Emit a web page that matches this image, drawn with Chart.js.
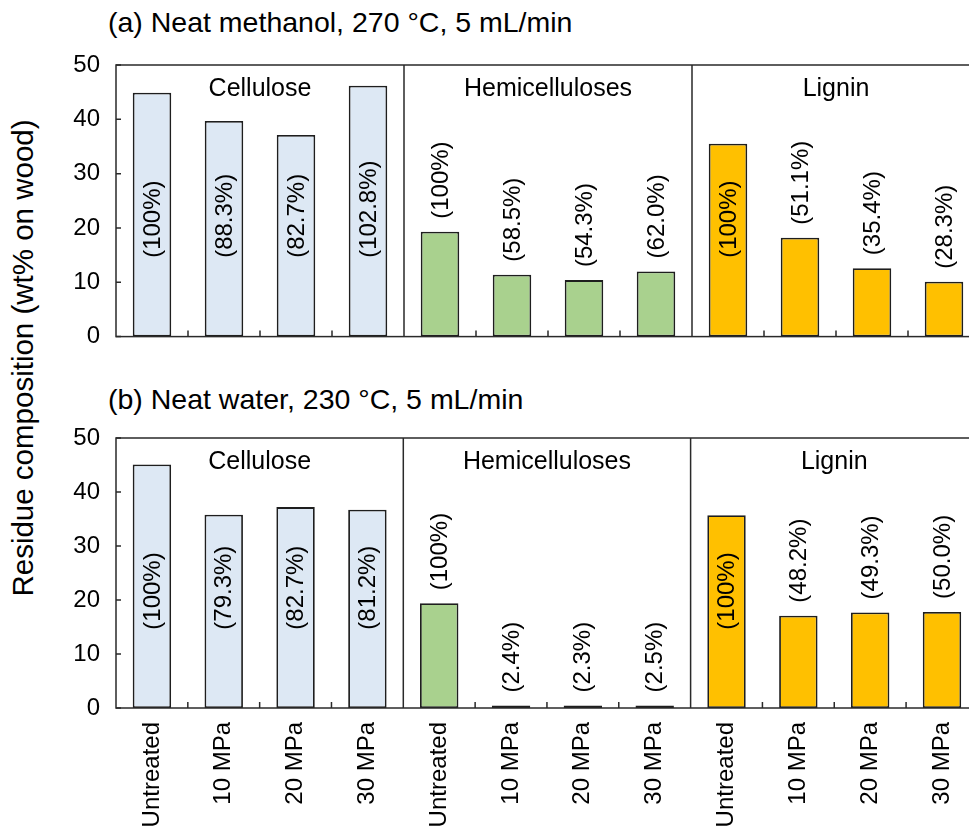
<!DOCTYPE html>
<html>
<head>
<meta charset="utf-8">
<script src="https://cdn.jsdelivr.net/npm/chart.js@4.4.1/dist/chart.umd.min.js"></script>
<style>
    html, body { margin: 0; overflow: hidden; }
    body { background: #fff; width: 969px; height: 833px; position: relative;
           font-family: "Liberation Sans", Arial, sans-serif; color: #000; }
    .panel-title { position: absolute; left: 108px; font-size: 28.5px; white-space: nowrap; line-height: 1; }
    #ytitle { position: absolute; left: 23px; top: 358px; transform: translate(-50%, -50%) rotate(-90deg);
              font-size: 29.5px; white-space: nowrap; line-height: 1; }
    canvas { position: absolute; left: 0; }
</style>
</head>
<body>
<div class="panel-title" style="top:8px">(a) Neat methanol, 270 °C, 5 mL/min</div>
<div class="panel-title" style="top:385px">(b) Neat water, 230 °C, 5 mL/min</div>
<div id="ytitle">Residue composition (wt% on wood)</div>
<canvas id="methanol-chart" width="985" height="367" style="top:0"></canvas>
<canvas id="water-chart" width="985" height="463" style="top:370px"></canvas>

<script>
(function () {
    "use strict";

    var FONT = "'Liberation Sans', Arial, sans-serif";

    // categories
    var categories = ["Untreated", "10 MPa", "20 MPa", "30 MPa",
                      "Untreated", "10 MPa", "20 MPa", "30 MPa",
                      "Untreated", "10 MPa", "20 MPa", "30 MPa"];
    var components = ["Cellulose", "Hemicelluloses", "Lignin"];
    var componentColors = ["#dde8f4", "#a9d18e", "#ffc000"];
    var yTicks = [0, 10, 20, 30, 40, 50];

    // (a) neat methanol: residue (wt% on wood) and retained (%)
    var methanolResidue = [44.9, 39.7, 37.1, 46.2, 19.3, 11.4, 10.4, 12.0, 35.5, 18.2, 12.6, 10.1];
    var methanolRetained = [100, 88.3, 82.7, 102.8, 100, 58.5, 54.3, 62.0, 100, 51.1, 35.4, 28.3];

    // (b) neat water
    var waterResidue = [45.1, 35.8, 37.2, 36.7, 19.4, 0.45, 0.45, 0.48, 35.7, 17.1, 17.7, 17.8];
    var waterRetained = [100, 79.3, 82.7, 81.2, 100, 2.4, 2.3, 2.5, 100, 48.2, 49.3, 50.0];

    var perGroup = categories.length / components.length;

    function fmtPct(v) {
        return "(" + (v === 100 ? "100" : v.toFixed(1)) + "%)";
    }

    // box, group dividers, inward ticks, group names
    var framePlugin = {
        id: "frame",
        afterDatasetsDraw: function (chart) {
            var ctx = chart.ctx, a = chart.chartArea;
            var xs = chart.scales.x, ys = chart.scales.y;
            ctx.save();
            ctx.strokeStyle = "#2a2a2a";
            ctx.lineWidth = 1.5;
            ctx.strokeRect(a.left, a.top, a.right - a.left, a.bottom - a.top);
            ctx.beginPath();
            for (var i = 1; i < categories.length; i++) {
                var bx = (xs.getPixelForValue(i - 1) + xs.getPixelForValue(i)) / 2;
                if (i % perGroup === 0) {
                    ctx.moveTo(bx, a.top);
                    ctx.lineTo(bx, a.bottom);
                } else {
                    ctx.moveTo(bx, a.bottom);
                    ctx.lineTo(bx, a.bottom - 6);
                }
            }
            yTicks.forEach(function (t) {
                var ty = ys.getPixelForValue(t);
                ctx.moveTo(a.left, ty);
                ctx.lineTo(a.left + 5, ty);
            });
            ctx.stroke();

            ctx.fillStyle = "#000";
            ctx.font = "25px " + FONT;
            ctx.textAlign = "center";
            ctx.textBaseline = "middle";
            components.forEach(function (name, g) {
                var cx = (xs.getPixelForValue(g * perGroup) + xs.getPixelForValue(g * perGroup + perGroup - 1)) / 2;
                ctx.fillText(name, cx, a.top + 24);
            });
            ctx.restore();
        }
    };

    // rotated "(xx.x%)" labels, inside tall bars, above short ones
    var pctPlugin = {
        id: "pctLabels",
        afterDatasetsDraw: function (chart) {
            var ctx = chart.ctx, ys = chart.scales.y;
            var ds = chart.data.datasets[0];
            var bars = chart.getDatasetMeta(0).data;
            ctx.save();
            ctx.fillStyle = "#000";
            ctx.font = "24px " + FONT;
            ctx.textAlign = "left";
            ctx.textBaseline = "middle";
            bars.forEach(function (bar, i) {
                var v = ds.data[i];
                var y = v > 30 ? ys.getPixelForValue(14.5) : bar.y - 13;
                ctx.save();
                ctx.translate(bar.x, y);
                ctx.rotate(-Math.PI / 2);
                ctx.fillText(fmtPct(ds.retained[i]), 0, 1);
                ctx.restore();
            });
            ctx.restore();
        }
    };

    function makeChart(id, residue, retained, showX, padTop) {
        var ctx = document.getElementById(id).getContext("2d");
        return new Chart(ctx, {
            type: "bar",
            data: {
                labels: categories,
                datasets: [{
                    data: residue,
                    retained: retained,
                    backgroundColor: categories.map(function (c, i) {
                        return componentColors[Math.floor(i / perGroup)];
                    }),
                    borderColor: "#1e1e1e",
                    borderWidth: 1.8,
                    borderSkipped: false,
                    barPercentage: 0.535,
                    categoryPercentage: 1.0
                }]
            },
            options: {
                responsive: false,
                devicePixelRatio: 1,
                animation: false,
                layout: { padding: { top: padTop, right: 5, left: 0, bottom: 0 } },
                plugins: { legend: { display: false }, tooltip: { enabled: false } },
                scales: {
                    x: {
                        grid: { display: false, drawTicks: false },
                        border: { display: false },
                        ticks: {
                            display: showX,
                            autoSkip: false,
                            maxRotation: 90,
                            minRotation: 90,
                            padding: 14,
                            color: "#000",
                            font: { family: FONT, size: 24 }
                        },
                        afterFit: function (s) { s.height = showX ? 125 : 10; }
                    },
                    y: {
                        min: 0,
                        max: 50,
                        grid: { display: false, drawTicks: false },
                        border: { display: false },
                        afterBuildTicks: function (s) {
                            s.ticks = yTicks.map(function (t) { return { value: t }; });
                        },
                        ticks: {
                            padding: 16,
                            color: "#000",
                            font: { family: FONT, size: 24 }
                        },
                        afterFit: function (s) { s.width = 116; }
                    }
                }
            },
            plugins: [framePlugin, pctPlugin]
        });
    }

    makeChart("methanol-chart", methanolResidue, methanolRetained, false, 65);
    makeChart("water-chart", waterResidue, waterRetained, true, 68);
})();
</script>
</body>
</html>
